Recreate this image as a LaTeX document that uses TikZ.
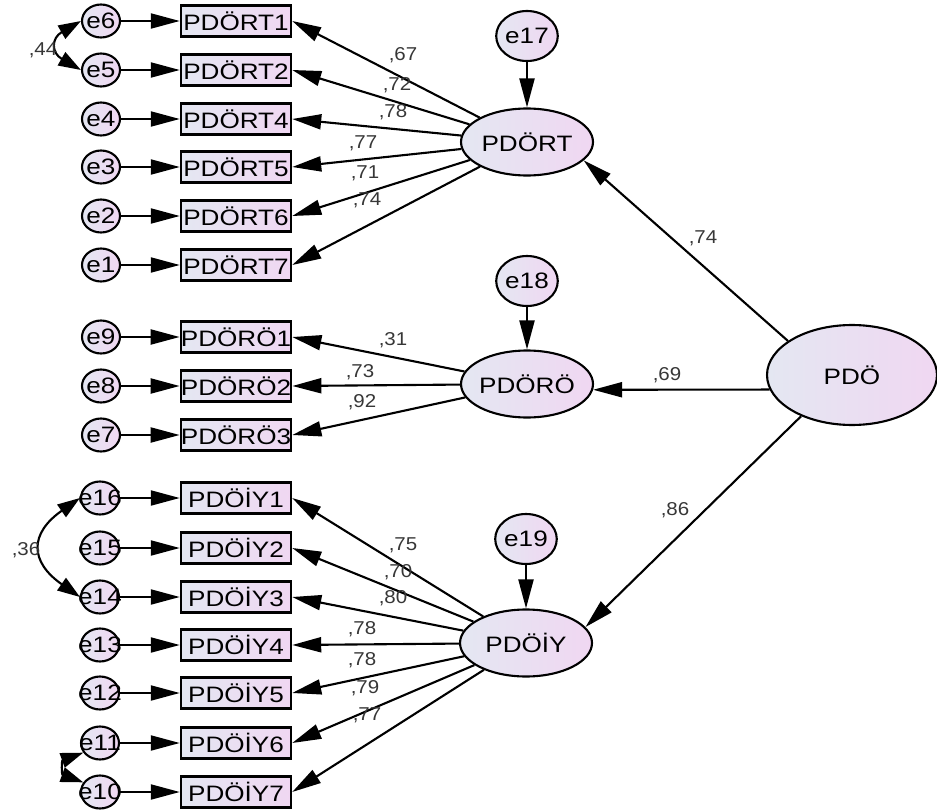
\documentclass[tikz,border=0pt]{standalone}
\usepackage{fontspec}
\setmainfont{Liberation Sans}
\newfontfamily\obsfont[FakeStretch=1.17]{Liberation Sans}
\newfontfamily\coeffont[FakeStretch=1.1]{Liberation Sans}
\usetikzlibrary{arrows.meta, shapes.geometric}
\definecolor{shadeL}{RGB}{228,231,242}
\definecolor{shadeR}{RGB}{240,215,242}
\definecolor{coefgray}{RGB}{55,55,55}
\newcommand{\nowd}[1]{\makebox[0pt]{#1}}

\begin{document}
\begin{tikzpicture}[x=0.02cm, y=-0.02cm]
	\tikzstyle{obs} = [draw, rectangle, line width=1.4pt, left color=shadeL, right color=shadeR,
	minimum width=2.2cm, minimum height=0.62cm, inner sep=0pt,
	font=\obsfont\fontsize{12.7}{14}\selectfont]
	\tikzstyle{err} = [draw, ellipse, line width=1.2pt, left color=shadeL, right color=shadeR,
	minimum width=0.76cm, minimum height=0.66cm, inner sep=0pt,
	font=\obsfont\fontsize{12.7}{14}\selectfont]
	\tikzstyle{dist} = [err, minimum width=1.16cm, minimum height=1.0cm]
	\tikzstyle{lat} = [err, minimum width=2.64cm, minimum height=1.34cm]
	\tikzstyle{coef} = [inner sep=0pt, text=coefgray, font=\coeffont\fontsize{10.6}{12}\selectfont]
	\tikzstyle{link} = [line width=1.2pt, -{Triangle[length=0.58cm, width=0.3cm]}]
	\tikzstyle{cov} = [line width=1.2pt, {Triangle[length=0.45cm, width=0.3cm]}-{Triangle[length=0.45cm, width=0.3cm]}]

	\useasboundingbox (0,0) rectangle (937,811);

	% latent variables
	\node[lat] (PDORT) at (527,142) {\nowd{PDÖRT}};
	\node[lat] (PDORO) at (527,384) {\nowd{PDÖRÖ}};
	\node[lat] (PDOIY) at (526,643) {\nowd{PDÖİY}};
	\node[lat, minimum width=3.4cm, minimum height=2.0cm] (PDO) at (852,375) {PDÖ};
	\node[dist] (e17) at (527,36) {e17};
	\node[dist] (e18) at (527,281) {e18};
	\node[dist] (e19) at (526,539) {e19};

	\draw[link] (e17) -- (PDORT);
	\draw[link] (e18) -- (PDORO);
	\draw[link] (e19) -- (PDOIY);

	\draw[link] (PDO.152) -- (PDORT.342);
	\node[coef] (c74) at (703,238) {,74};
	\draw[link] (PDO.190) -- (PDORO.355);
	\node[coef] (c69) at (667,375) {,69};
	\draw[link] (PDO.219) -- (PDOIY.15);
	\node[coef] (c86) at (675,510) {,86};

	% PDÖRT items
	\foreach \i/\y/\e in {1/21/6, 2/70/5, 4/119/4, 5/167/3, 6/216/2, 7/265/1} {
		\node[obs] (rt\i) at (236,\y) {PDÖRT\i};
		\node[err] (e\e) at (101,\y) {\nowd{e\e}};
		\draw[link] (e\e) -- (rt\i);
	}
	\foreach \i/\v/\lx/\ly in {1/67/403/55, 2/72/397/85, 4/78/393/112, 5/77/363/143, 6/71/365/173, 7/74/367/200} {
		\draw[link] (PDORT) -- (rt\i.east);
		\node[coef] (rtc\i) at (\lx,\ly) {,\v};
	}

	% PDÖRÖ items
	\foreach \i/\y/\e in {1/337/9, 2/386/8, 3/435/7} {
		\node[obs] (ro\i) at (236,\y) {PDÖRÖ\i};
		\node[err] (e\e) at (101,\y) {\nowd{e\e}};
		\draw[link] (e\e) -- (ro\i);
	}
	\foreach \i/\v/\lx/\ly in {1/31/393/340, 2/73/360/372, 3/92/362/402} {
		\draw[link] (PDORO) -- (ro\i.east);
		\node[coef] (roc\i) at (\lx,\ly) {,\v};
	}

	% PDÖİY items
	\foreach \i/\y/\e in {1/498/16, 2/548/15, 3/597/14, 4/645/13, 5/693/12, 6/743/11, 7/792/10} {
		\node[obs] (iy\i) at (236,\y) {PDÖİY\i};
		\node[err] (e\e) at (100,\y) {\nowd{e\e}};
		\draw[link] (e\e) -- (iy\i);
	}
	\foreach \i/\v/\lx/\ly in {1/75/403/545, 2/70/398/572, 3/80/393/598, 4/78/362/629, 5/78/362/660, 6/79/365/688, 7/77/367/715} {
		\draw[link] (PDOIY) -- (iy\i.east);
		\node[coef] (iyc\i) at (\lx,\ly) {,\v};
	}

	% covariances
	\draw[cov] (e6.west) to[out=210, in=150, looseness=1.8] (e5.west);
	\node[coef] (c44) at (43,50) {,44};
	\draw[cov] (e16.west) to[out=215, in=145, looseness=1.6] (e14.west);
	\node[coef] (c36) at (26,550) {,36};
	\draw[cov] (e11.210) to[out=200, in=160, looseness=2] (e10.150);
\end{tikzpicture}
\end{document}
